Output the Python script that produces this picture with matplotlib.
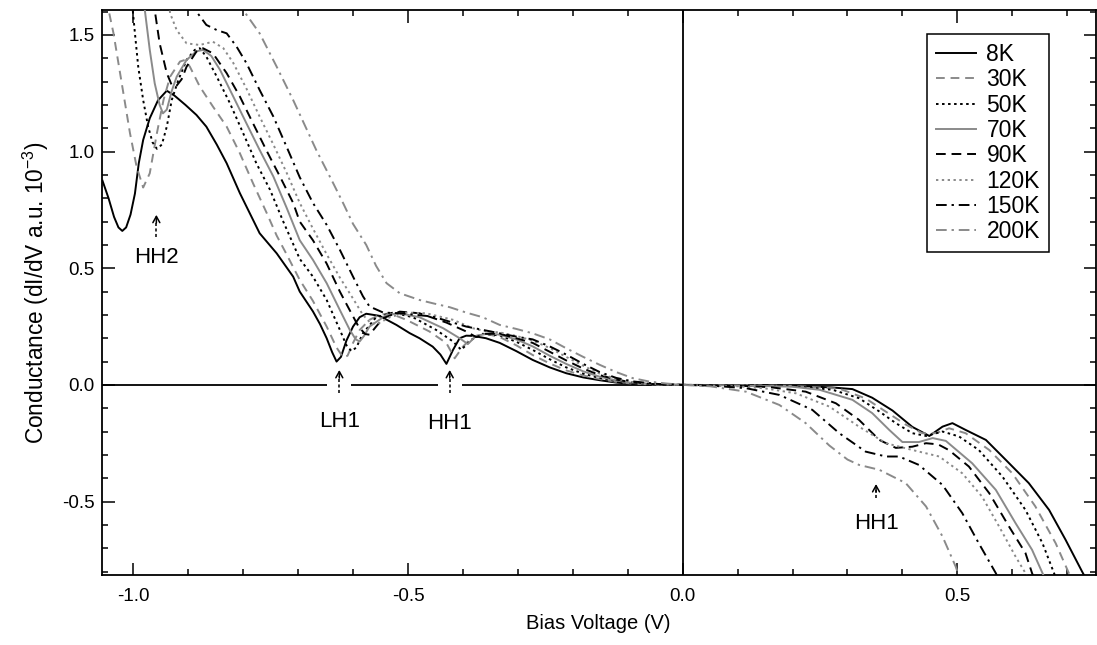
import numpy as np
import matplotlib
matplotlib.use('Agg')
import matplotlib.pyplot as plt
from matplotlib.ticker import MultipleLocator
from matplotlib.patches import Rectangle

plt.rcParams['font.family'] = ['Liberation Sans', 'DejaVu Sans']
plt.rcParams['axes.unicode_minus'] = False

temps = ['8K', '30K', '50K', '70K', '90K', '120K', '150K', '200K']

# bias (V) / conductance, one pair per temperature
v_8 = [-1.056, -1.045, -1.035, -1.027, -1.020, -1.013, -1.005, -0.997, -0.990, -0.982,
       -0.970, -0.955, -0.939, -0.925, -0.905, -0.885, -0.867, -0.848, -0.830, -0.806,
       -0.788, -0.770, -0.739, -0.709, -0.697, -0.673, -0.660, -0.648, -0.638, -0.630,
       -0.622, -0.612, -0.600, -0.588, -0.576, -0.552, -0.521, -0.497, -0.479, -0.455,
       -0.441, -0.430, -0.418, -0.406, -0.394, -0.382, -0.358, -0.333, -0.303, -0.273,
       -0.242, -0.212, -0.181, -0.151, -0.121, -0.091, -0.045, 0.0, 0.10, 0.20, 0.236,
       0.272, 0.309, 0.345, 0.382, 0.418, 0.449, 0.473, 0.491, 0.515, 0.552, 0.588, 0.630,
       0.667, 0.697, 0.727, 0.750]
g_8 = [0.875, 0.80, 0.72, 0.675, 0.66, 0.675, 0.73, 0.82, 0.95, 1.05,
       1.143, 1.22, 1.261, 1.24, 1.20, 1.157, 1.107, 1.03, 0.95, 0.822,
       0.736, 0.650, 0.564, 0.464, 0.40, 0.315, 0.26, 0.20, 0.14, 0.10,
       0.12, 0.19, 0.25, 0.29, 0.305, 0.296, 0.257, 0.222, 0.200, 0.164,
       0.130, 0.090, 0.150, 0.200, 0.211, 0.210, 0.200, 0.180, 0.145, 0.107,
       0.075, 0.050, 0.032, 0.020, 0.010, 0.004, 0.001, 0.0, -0.001, -0.004, -0.007,
       -0.011, -0.018, -0.055, -0.110, -0.180, -0.219, -0.179, -0.164, -0.193, -0.236, -0.321, -0.421,
       -0.536, -0.664, -0.800, -0.90]

v_30 = [-1.052, -1.045, -1.036, -1.021, -1.006, -0.994, -0.982, -0.970, -0.957, -0.945,
        -0.933, -0.915, -0.906, -0.897, -0.879, -0.855, -0.830, -0.806, -0.782, -0.757,
        -0.739, -0.721, -0.697, -0.673, -0.648, -0.630, -0.618, -0.610, -0.600, -0.588,
        -0.570, -0.552, -0.533, -0.503, -0.461, -0.430, -0.415, -0.400, -0.382, -0.358,
        -0.333, -0.303, -0.273, -0.242, -0.212, -0.181, -0.151, -0.121, -0.091, -0.045,
        0.0, 0.10, 0.20, 0.285, 0.333, 0.370, 0.406, 0.436, 0.461, 0.485, 0.515, 0.558,
        0.600, 0.642, 0.679, 0.703, 0.725]
g_30 = [1.75, 1.607, 1.507, 1.293, 1.079, 0.936, 0.846, 0.907, 1.079, 1.221,
        1.321, 1.386, 1.393, 1.364, 1.279, 1.193, 1.107, 0.993, 0.864, 0.736,
        0.64, 0.56, 0.45, 0.36, 0.25, 0.16, 0.118, 0.125, 0.18, 0.235,
        0.279, 0.300, 0.307, 0.279, 0.229, 0.179, 0.114, 0.164, 0.207, 0.219,
        0.205, 0.170, 0.128, 0.092, 0.062, 0.040, 0.025, 0.013, 0.005, 0.001,
        0.0, -0.001, -0.004, -0.016, -0.058, -0.115, -0.170, -0.207, -0.207, -0.186, -0.207, -0.279,
        -0.379, -0.521, -0.679, -0.807, -0.92]

v_50 = [-1.005, -1.001, -0.997, -0.991, -0.982, -0.973, -0.965, -0.957, -0.948, -0.939,
        -0.930, -0.918, -0.903, -0.888, -0.879, -0.867, -0.848, -0.824, -0.800, -0.776,
        -0.751, -0.727, -0.697, -0.673, -0.648, -0.624, -0.612, -0.603, -0.594, -0.582,
        -0.558, -0.527, -0.491, -0.449, -0.418, -0.403, -0.385, -0.364, -0.333, -0.303,
        -0.273, -0.242, -0.212, -0.181, -0.151, -0.121, -0.091, -0.045, 0.0, 0.10, 0.20,
        0.273, 0.321, 0.358, 0.388, 0.418, 0.443, 0.473, 0.503, 0.539, 0.582, 0.624,
        0.655, 0.676, 0.695]
g_50 = [1.75, 1.607, 1.507, 1.364, 1.221, 1.107, 1.04, 1.012, 1.03, 1.107,
        1.221, 1.307, 1.393, 1.436, 1.443, 1.407, 1.321, 1.207, 1.079, 0.950,
        0.836, 0.70, 0.54, 0.464, 0.364, 0.236, 0.17, 0.145, 0.16, 0.221,
        0.290, 0.310, 0.290, 0.236, 0.186, 0.150, 0.193, 0.219, 0.212, 0.185,
        0.150, 0.110, 0.075, 0.048, 0.030, 0.016, 0.006, 0.001, 0.0, -0.001, -0.005,
        -0.021, -0.057, -0.114, -0.164, -0.207, -0.219, -0.200, -0.221, -0.279, -0.393, -0.536,
        -0.679, -0.807, -0.92]

v_70 = [-0.982, -0.979, -0.970, -0.961, -0.952, -0.946, -0.939, -0.930, -0.921, -0.903,
        -0.885, -0.873, -0.858, -0.842, -0.818, -0.794, -0.770, -0.745, -0.721, -0.697,
        -0.673, -0.648, -0.624, -0.606, -0.595, -0.588, -0.580, -0.570, -0.539, -0.515,
        -0.479, -0.436, -0.406, -0.391, -0.376, -0.352, -0.333, -0.303, -0.273, -0.242,
        -0.212, -0.181, -0.151, -0.121, -0.091, -0.045, 0.0, 0.10, 0.20, 0.249, 0.309,
        0.345, 0.376, 0.400, 0.430, 0.455, 0.479, 0.527, 0.570, 0.606, 0.636, 0.655, 0.672]
g_70 = [1.75, 1.607, 1.436, 1.293, 1.20, 1.164, 1.18, 1.26, 1.321, 1.393,
        1.43, 1.436, 1.41, 1.35, 1.236, 1.121, 1.007, 0.893, 0.76, 0.62,
        0.536, 0.436, 0.321, 0.236, 0.195, 0.186, 0.21, 0.250, 0.300, 0.307,
        0.290, 0.243, 0.200, 0.175, 0.210, 0.221, 0.215, 0.195, 0.165, 0.125,
        0.090, 0.058, 0.035, 0.019, 0.008, 0.002, 0.0, -0.002, -0.008, -0.021, -0.064,
        -0.121, -0.193, -0.245, -0.245, -0.228, -0.240, -0.336, -0.450, -0.593, -0.707, -0.807, -0.90]

v_90 = [-0.963, -0.961, -0.952, -0.939, -0.930, -0.922, -0.912, -0.903, -0.885, -0.873,
        -0.855, -0.830, -0.806, -0.782, -0.758, -0.733, -0.709, -0.697, -0.673, -0.648,
        -0.624, -0.606, -0.590, -0.578, -0.570, -0.558, -0.545, -0.515, -0.479, -0.430,
        -0.394, -0.376, -0.358, -0.333, -0.303, -0.273, -0.242, -0.212, -0.181, -0.151,
        -0.121, -0.091, -0.045, 0.0, 0.10, 0.16, 0.224, 0.279, 0.321, 0.358, 0.388, 0.418,
        0.443, 0.465, 0.485, 0.521, 0.558, 0.594, 0.624, 0.636, 0.652]
g_90 = [1.75, 1.607, 1.464, 1.336, 1.285, 1.28, 1.31, 1.364, 1.429, 1.443,
        1.421, 1.336, 1.236, 1.121, 1.007, 0.893, 0.78, 0.70, 0.62, 0.52,
        0.40, 0.32, 0.25, 0.218, 0.215, 0.25, 0.286, 0.314, 0.307, 0.267,
        0.229, 0.205, 0.219, 0.219, 0.200, 0.180, 0.142, 0.105, 0.070, 0.042,
        0.023, 0.010, 0.002, 0.0, -0.003, -0.010, -0.029, -0.079, -0.150, -0.236, -0.270, -0.265,
        -0.250, -0.255, -0.280, -0.350, -0.464, -0.607, -0.721, -0.807, -0.90]

v_120 = [-0.940, -0.933, -0.921, -0.903, -0.879, -0.855, -0.836, -0.818, -0.794, -0.770,
         -0.745, -0.721, -0.697, -0.673, -0.648, -0.624, -0.600, -0.582, -0.568, -0.555,
         -0.533, -0.503, -0.467, -0.418, -0.382, -0.358, -0.333, -0.303, -0.273, -0.242,
         -0.212, -0.181, -0.151, -0.121, -0.091, -0.045, 0.0, 0.10, 0.15, 0.206, 0.267,
         0.321, 0.370, 0.418, 0.467, 0.509, 0.545, 0.576, 0.606, 0.624, 0.640]
g_120 = [1.75, 1.593, 1.521, 1.464, 1.457, 1.471, 1.443, 1.38, 1.27, 1.15,
         1.03, 0.91, 0.78, 0.67, 0.56, 0.46, 0.37, 0.30, 0.265, 0.262,
         0.290, 0.310, 0.307, 0.279, 0.243, 0.229, 0.225, 0.210, 0.190, 0.158,
         0.120, 0.082, 0.048, 0.026, 0.012, 0.003, 0.0, -0.006, -0.015, -0.036, -0.093,
         -0.179, -0.250, -0.279, -0.307, -0.379, -0.479, -0.607, -0.736, -0.807, -0.90]

v_150 = [-0.890, -0.885, -0.867, -0.848, -0.830, -0.812, -0.794, -0.770, -0.745, -0.721,
         -0.697, -0.673, -0.648, -0.624, -0.600, -0.582, -0.570, -0.545, -0.515, -0.455,
         -0.424, -0.394, -0.364, -0.333, -0.303, -0.273, -0.242, -0.212, -0.181, -0.151,
         -0.121, -0.091, -0.045, 0.0, 0.05, 0.115, 0.176, 0.236, 0.285, 0.333, 0.370,
         0.394, 0.430, 0.473, 0.509, 0.539, 0.570, 0.588]
g_150 = [1.75, 1.60, 1.543, 1.521, 1.507, 1.45, 1.379, 1.264, 1.15, 1.021,
         0.89, 0.78, 0.686, 0.579, 0.464, 0.38, 0.336, 0.31, 0.307, 0.293,
         0.271, 0.25, 0.236, 0.221, 0.207, 0.195, 0.165, 0.130, 0.090, 0.055,
         0.030, 0.015, 0.004, 0.0, -0.003, -0.014, -0.043, -0.107, -0.207, -0.286, -0.307,
         -0.307, -0.343, -0.429, -0.550, -0.679, -0.807, -0.90]

v_200 = [-0.805, -0.800, -0.770, -0.739, -0.709, -0.667, -0.636, -0.618, -0.600, -0.576,
         -0.558, -0.539, -0.515, -0.479, -0.455, -0.424, -0.394, -0.364, -0.333, -0.303,
         -0.273, -0.242, -0.212, -0.181, -0.151, -0.121, -0.091, -0.060, -0.030, 0.0,
         0.05, 0.115, 0.176, 0.224, 0.267, 0.300, 0.321, 0.358, 0.406, 0.443, 0.473,
         0.497, 0.512]
g_200 = [1.75, 1.607, 1.507, 1.364, 1.221, 1.007, 0.864, 0.779, 0.69, 0.600,
         0.51, 0.436, 0.393, 0.364, 0.350, 0.333, 0.31, 0.29, 0.257, 0.24,
         0.221, 0.195, 0.157, 0.12, 0.086, 0.055, 0.029, 0.014, 0.006, 0.0,
         -0.006, -0.029, -0.086, -0.164, -0.260, -0.320, -0.343, -0.364, -0.421, -0.521, -0.650,
         -0.779, -0.88]

volts = [v_8, v_30, v_50, v_70, v_90, v_120, v_150, v_200]
conds = [g_8, g_30, g_50, g_70, g_90, g_120, g_150, g_200]

gray = '#8a8a8a'
colors = ['k', gray, 'k', gray, 'k', gray, 'k', gray]
styles = ['-', (0, (4.5, 3)), (0, (1.3, 1.8)), '-', (0, (5, 3)),
          (0, (1.2, 1.8)), (0, (5.5, 2.5, 1.2, 2.5)), (0, (5.5, 2.5, 1.2, 2.5))]

fig = plt.figure(figsize=(10.97, 6.45), dpi=100)
ax = fig.add_axes([0.0927, 0.1085, 0.9062, 0.876])

ax.axhline(0, color='k', lw=1.3, zorder=2)
ax.axvline(0, color='k', lw=1.3, zorder=2)

for v, g, c, s, t in zip(volts, conds, colors, styles, temps):
    ax.plot(v, g, color=c, ls=s, lw=1.4, label=t, zorder=3)

ax.set_xlim(-1.0575, 0.752)
ax.set_ylim(-0.815, 1.607)
ax.xaxis.set_major_locator(MultipleLocator(0.5))
ax.xaxis.set_minor_locator(MultipleLocator(0.1))
ax.yaxis.set_major_locator(MultipleLocator(0.5))
ax.yaxis.set_minor_locator(MultipleLocator(0.1))
ax.xaxis.set_major_formatter(plt.FormatStrFormatter('%.1f'))
ax.yaxis.set_major_formatter(plt.FormatStrFormatter('%.1f'))
ax.tick_params(which='both', direction='in', top=True, right=True, width=1.1,
               labelsize=13.5)
ax.tick_params(which='major', length=9)
ax.tick_params(which='minor', length=4.5)
ax.tick_params(axis='x', pad=9)
ax.tick_params(axis='y', pad=5)
for sp in ax.spines.values():
    sp.set_linewidth(1.3)

ax.set_xlabel('Bias Voltage (V)', fontsize=14.5, labelpad=7)
ax.set_ylabel('Conductance (dI/dV a.u. 10$^{\\mathregular{-3}}$)', fontsize=16.3, labelpad=8)

# feature markers: dashed arrow with label underneath
marks = [('HH2', -0.958, 0.634, 0.729, 0.544, False),
         ('LH1', -0.625, -0.036, 0.064, -0.157, True),
         ('HH1', -0.424, -0.036, 0.064, -0.164, True),
         ('HH1', 0.352, -0.486, -0.425, -0.593, False)]
for name, xm, y0, y1, yt, gap in marks:
    if gap:
        ax.add_patch(Rectangle((xm - 0.022, y0 - 0.01), 0.044, y1 - y0 + 0.02,
                               facecolor='white', edgecolor='none', zorder=2.5))
    ax.plot([xm, xm], [y0, y1 - 0.025], color='k', lw=1.1, ls=(0, (2, 1.6)), zorder=4)
    ax.annotate('', xy=(xm, y1), xytext=(xm, y1 - 0.035),
                arrowprops=dict(arrowstyle='->,head_length=0.45,head_width=0.25',
                                lw=1.1, color='k', shrinkA=0, shrinkB=0), zorder=4)
    ax.text(xm, yt, name, fontsize=16, ha='center', va='center')

leg = ax.legend(loc='upper left', bbox_to_anchor=(0.830, 0.9575), borderaxespad=0,
                fontsize=16.5, handlelength=1.75, handletextpad=0.45, borderpad=0.4,
                labelspacing=0.1, fancybox=False, framealpha=1, edgecolor='k')
leg.get_frame().set_linewidth(1.1)

fig.savefig('out.png', dpi=100)
